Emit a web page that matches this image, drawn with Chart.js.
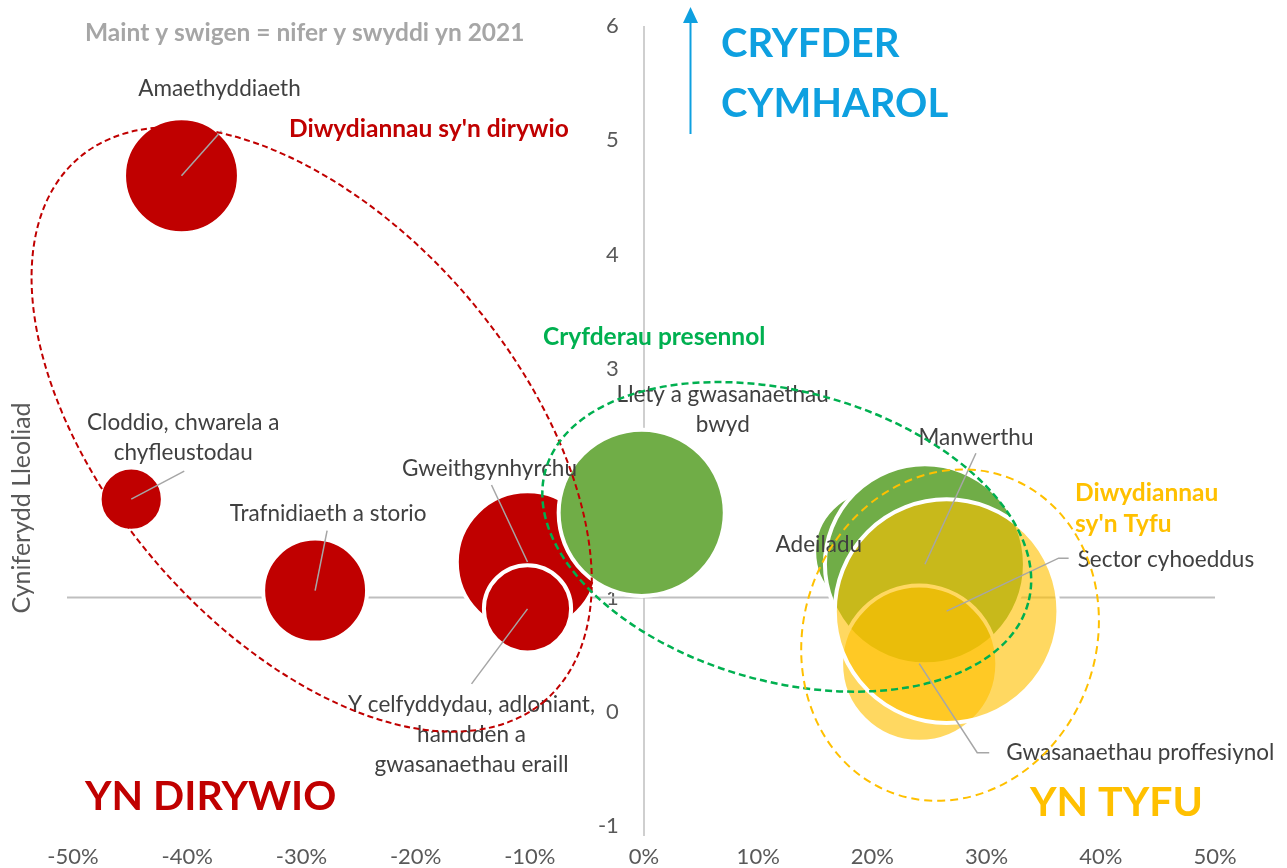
<!DOCTYPE html>
<html lang="cy">
<head>
<meta charset="utf-8">
<title>Cyniferydd Lleoliad a thwf swyddi</title>
<script src="https://cdn.jsdelivr.net/npm/chart.js@4.4.1/dist/chart.umd.min.js"></script>
<style>
  html, body { margin: 0; padding: 0; background: #fff; }
  #wrap { width: 1287px; height: 868px; }
</style>
</head>
<body>
<div id="wrap"><canvas id="chart" width="1287" height="868"></canvas></div>
<script>
// Diwydiannau sy'n dirywio
const dirywioEnwau = [
  'Amaethyddiaeth',
  'Cloddio, chwarela a\nchyfleustodau',
  'Trafnidiaeth a storio',
  'Gweithgynhyrchu',
  'Y celfyddydau, adloniant,\nhamdden a\ngwasanaethau eraill',
];
const dirywioTwf = [-40.5, -44.9, -28.8, -10.2, -10.2];   // % newid
const dirywioCL = [4.69, 1.86, 1.06, 1.31, 0.90];         // cyniferydd lleoliad
const dirywioSwyddi = [3300, 1000, 2700, 5000, 1900];

// Cryfderau presennol
const cryfderauEnwau = ['Llety a gwasanaethau\nbwyd', 'Adeiladu', 'Manwerthu'];
const cryfderauTwf = [-0.2, 20.3, 24.6];
const cryfderauCL = [1.74, 1.40, 1.29];
const cryfderauSwyddi = [6900, 3800, 10000];

// Diwydiannau sy'n tyfu
const tyfuEnwau = ['Gwasanaethau proffesiynol', 'Sector cyhoeddus'];
const tyfuTwf = [24.1, 26.5];
const tyfuCL = [0.42, 0.88];
const tyfuSwyddi = [6100, 12500];

const xTicks = [-50, -40, -30, -20, -10, 0, 10, 20, 30, 40, 50];
const yTicks = [-1, 0, 1, 2, 3, 4, 5, 6];

// bubble area ~ jobs
const bubbleScale = 1;
function points(xs, ys, sizes) {
  return xs.map((x, i) => ({ x: x, y: ys[i], r: Math.sqrt(sizes[i]) * bubbleScale }));
}

// label offsets from bubble centre (px), with callout line points
const labelLayout = [
  [
    { dx: 38, dy: -87, lead: [[40, -45]] },
    { dx: 52, dy: -76, lead: [[53, -28]] },
    { dx: 13, dy: -77, lead: [[12, -60]] },
    { dx: -38, dy: -93, lead: [[-36, -77]] },
    { dx: -56, dy: 96, lead: [[-56, 75]] },
  ],
  [
    { dx: 81, dy: -118 },
    { dx: -57, dy: -7 },
    { dx: 51, dy: -127, lead: [[51, -111]] },
  ],
  [
    { dx: 87, dy: 89, align: 'left', lead: [[58, 89], [70, 89]] },
    { dx: 131, dy: -51, align: 'left', lead: [[112, -53], [122, -53]] },
  ],
];
const labelNames = [dirywioEnwau, cryfderauEnwau, tyfuEnwau];

// dashed group outlines: centre in data units, radii in y units, rotation deg
const groups = [
  { x: -29.1, y: 2.47, a: 3.13, b: 1.79, rot: 49.3, color: '#C00000', dash: [6, 3.5], width: 2 },
  { x: 12.5, y: 1.53, a: 2.19, b: 1.27, rot: 15.3, color: '#00B050', dash: [7, 4], width: 2.5 },
  { x: 26.8, y: 0.67, a: 1.47, b: 1.28, rot: -70.5, color: '#FFC000', dash: [8, 5], width: 2 },
];

const FONT = 'Lato, "Open Sans", sans-serif';

const overlay = {
  id: 'overlay',
  beforeDatasetsDraw(chart) {
    const c = chart.ctx, xs = chart.scales.x, ys = chart.scales.y;
    c.save();
    c.strokeStyle = '#BFBFBF';
    c.lineWidth = 2;
    const y1 = ys.getPixelForValue(1);
    c.beginPath();
    c.moveTo(xs.left - 6, y1);
    c.lineTo(xs.right, y1);
    c.stroke();
    const x0 = xs.getPixelForValue(0);
    c.lineWidth = 1.5;
    c.beginPath();
    c.moveTo(x0, ys.top);
    c.lineTo(x0, ys.bottom + 10);
    c.stroke();
    c.restore();
  },
  afterDatasetsDraw(chart) {
    const c = chart.ctx, xs = chart.scales.x, ys = chart.scales.y;
    c.save();
    // data labels
    c.font = '22.5px ' + FONT;
    c.fillStyle = '#404040';
    c.textBaseline = 'middle';
    labelNames.forEach((names, d) => {
      const meta = chart.getDatasetMeta(d);
      names.forEach((name, i) => {
        const pt = meta.data[i];
        const lay = labelLayout[d][i];
        if (lay.lead) {
          c.strokeStyle = '#A6A6A6';
          c.lineWidth = 1.5;
          c.beginPath();
          c.moveTo(pt.x, pt.y);
          lay.lead.forEach(p => c.lineTo(pt.x + p[0], pt.y + p[1]));
          c.stroke();
        }
        c.textAlign = lay.align || 'center';
        name.split('\n').forEach((line, k) => {
          c.fillText(line, pt.x + lay.dx, pt.y + lay.dy + k * 30);
        });
      });
    });
    // group outlines
    const unit = ys.getPixelForValue(0) - ys.getPixelForValue(1);
    groups.forEach(g => {
      c.strokeStyle = g.color;
      c.lineWidth = g.width;
      c.setLineDash(g.dash);
      c.beginPath();
      c.ellipse(xs.getPixelForValue(g.x), ys.getPixelForValue(g.y), g.a * unit, g.b * unit,
        g.rot * Math.PI / 180, 0, Math.PI * 2);
      c.stroke();
    });
    c.restore();
  },
  afterDraw(chart) {
    const c = chart.ctx;
    c.save();
    c.textBaseline = 'middle';
    c.textAlign = 'left';
    const text = (s, x, y, size, color, bold) => {
      c.font = (bold ? 'bold ' : '') + size + 'px ' + FONT;
      c.fillStyle = color;
      c.fillText(s, x, y);
    };
    text('Maint y swigen = nifer y swyddi yn 2021', 85, 33, 24.5, '#A6A6A6', true);
    text("Diwydiannau sy'n dirywio", 289, 129, 24.5, '#C00000', true);
    text('Cryfderau presennol', 543, 337, 24.5, '#00B050', true);
    text('Diwydiannau', 1075, 493, 24.5, '#FFC000', true);
    text("sy'n Tyfu", 1075, 524, 24.5, '#FFC000', true);
    text('CRYFDER', 721, 44, 40, '#0EA0E0', true);
    text('CYMHAROL', 721, 104, 40, '#0EA0E0', true);
    text('YN DIRYWIO', 85, 797, 41, '#C00000', true);
    text('YN TYFU', 1030, 803, 41, '#FFC000', true);

    // arrow
    c.strokeStyle = '#0EA0E0';
    c.fillStyle = '#0EA0E0';
    c.lineWidth = 2;
    c.beginPath();
    c.moveTo(690.5, 134);
    c.lineTo(690.5, 20);
    c.stroke();
    c.beginPath();
    c.moveTo(690.5, 7);
    c.lineTo(683, 23);
    c.lineTo(698, 23);
    c.closePath();
    c.fill();

    // y axis title
    c.translate(22, 508);
    c.rotate(-Math.PI / 2);
    c.textAlign = 'center';
    c.font = '25px ' + FONT;
    c.fillStyle = '#595959';
    c.fillText('Cyniferydd Lleoliad', 0, 0);
    c.restore();
  }
};

new Chart(document.getElementById('chart'), {
  type: 'bubble',
  data: {
    datasets: [
      {
        label: "Diwydiannau sy'n dirywio",
        data: points(dirywioTwf, dirywioCL, dirywioSwyddi),
        backgroundColor: '#C00000',
        borderColor: '#FFFFFF',
        borderWidth: 4,
        order: 3
      },
      {
        label: 'Cryfderau presennol',
        data: points(cryfderauTwf, cryfderauCL, cryfderauSwyddi),
        backgroundColor: '#70AD47',
        borderColor: '#FFFFFF',
        borderWidth: 4,
        order: 2
      },
      {
        label: "Diwydiannau sy'n tyfu",
        data: points(tyfuTwf, tyfuCL, tyfuSwyddi),
        backgroundColor: 'rgba(255, 192, 0, 0.62)',
        borderColor: '#FFFFFF',
        borderWidth: 4,
        order: 1
      }
    ]
  },
  options: {
    responsive: false,
    animation: false,
    devicePixelRatio: 1,
    events: [],
    layout: { autoPadding: false, padding: { left: 73, right: 72, top: 26, bottom: 0 } },
    plugins: { legend: { display: false }, tooltip: { enabled: false } },
    scales: {
      x: {
        type: 'linear',
        min: xTicks[0],
        max: xTicks[xTicks.length - 1],
        position: 'bottom',
        grid: { display: false, drawTicks: false },
        border: { display: false },
        afterBuildTicks: s => { s.ticks = xTicks.map(v => ({ value: v })); },
        afterFit: s => { s.height = 42; },
        ticks: {
          padding: 18,
          color: '#595959',
          font: { family: FONT, size: 22 },
          callback: v => v + '%'
        }
      },
      y: {
        type: 'linear',
        min: yTicks[0],
        max: yTicks[yTicks.length - 1],
        // tick labels sit just left of the 0% line (drawn in the plugin)
        position: { x: -2.2 },
        z: 1,
        grid: { display: false, drawTicks: false },
        border: { display: false },
        afterBuildTicks: s => { s.ticks = yTicks.map(v => ({ value: v })); },
        ticks: {
          color: '#595959',
          font: { family: FONT, size: 22 }
        }
      }
    }
  },
  plugins: [overlay]
});
</script>
</body>
</html>
